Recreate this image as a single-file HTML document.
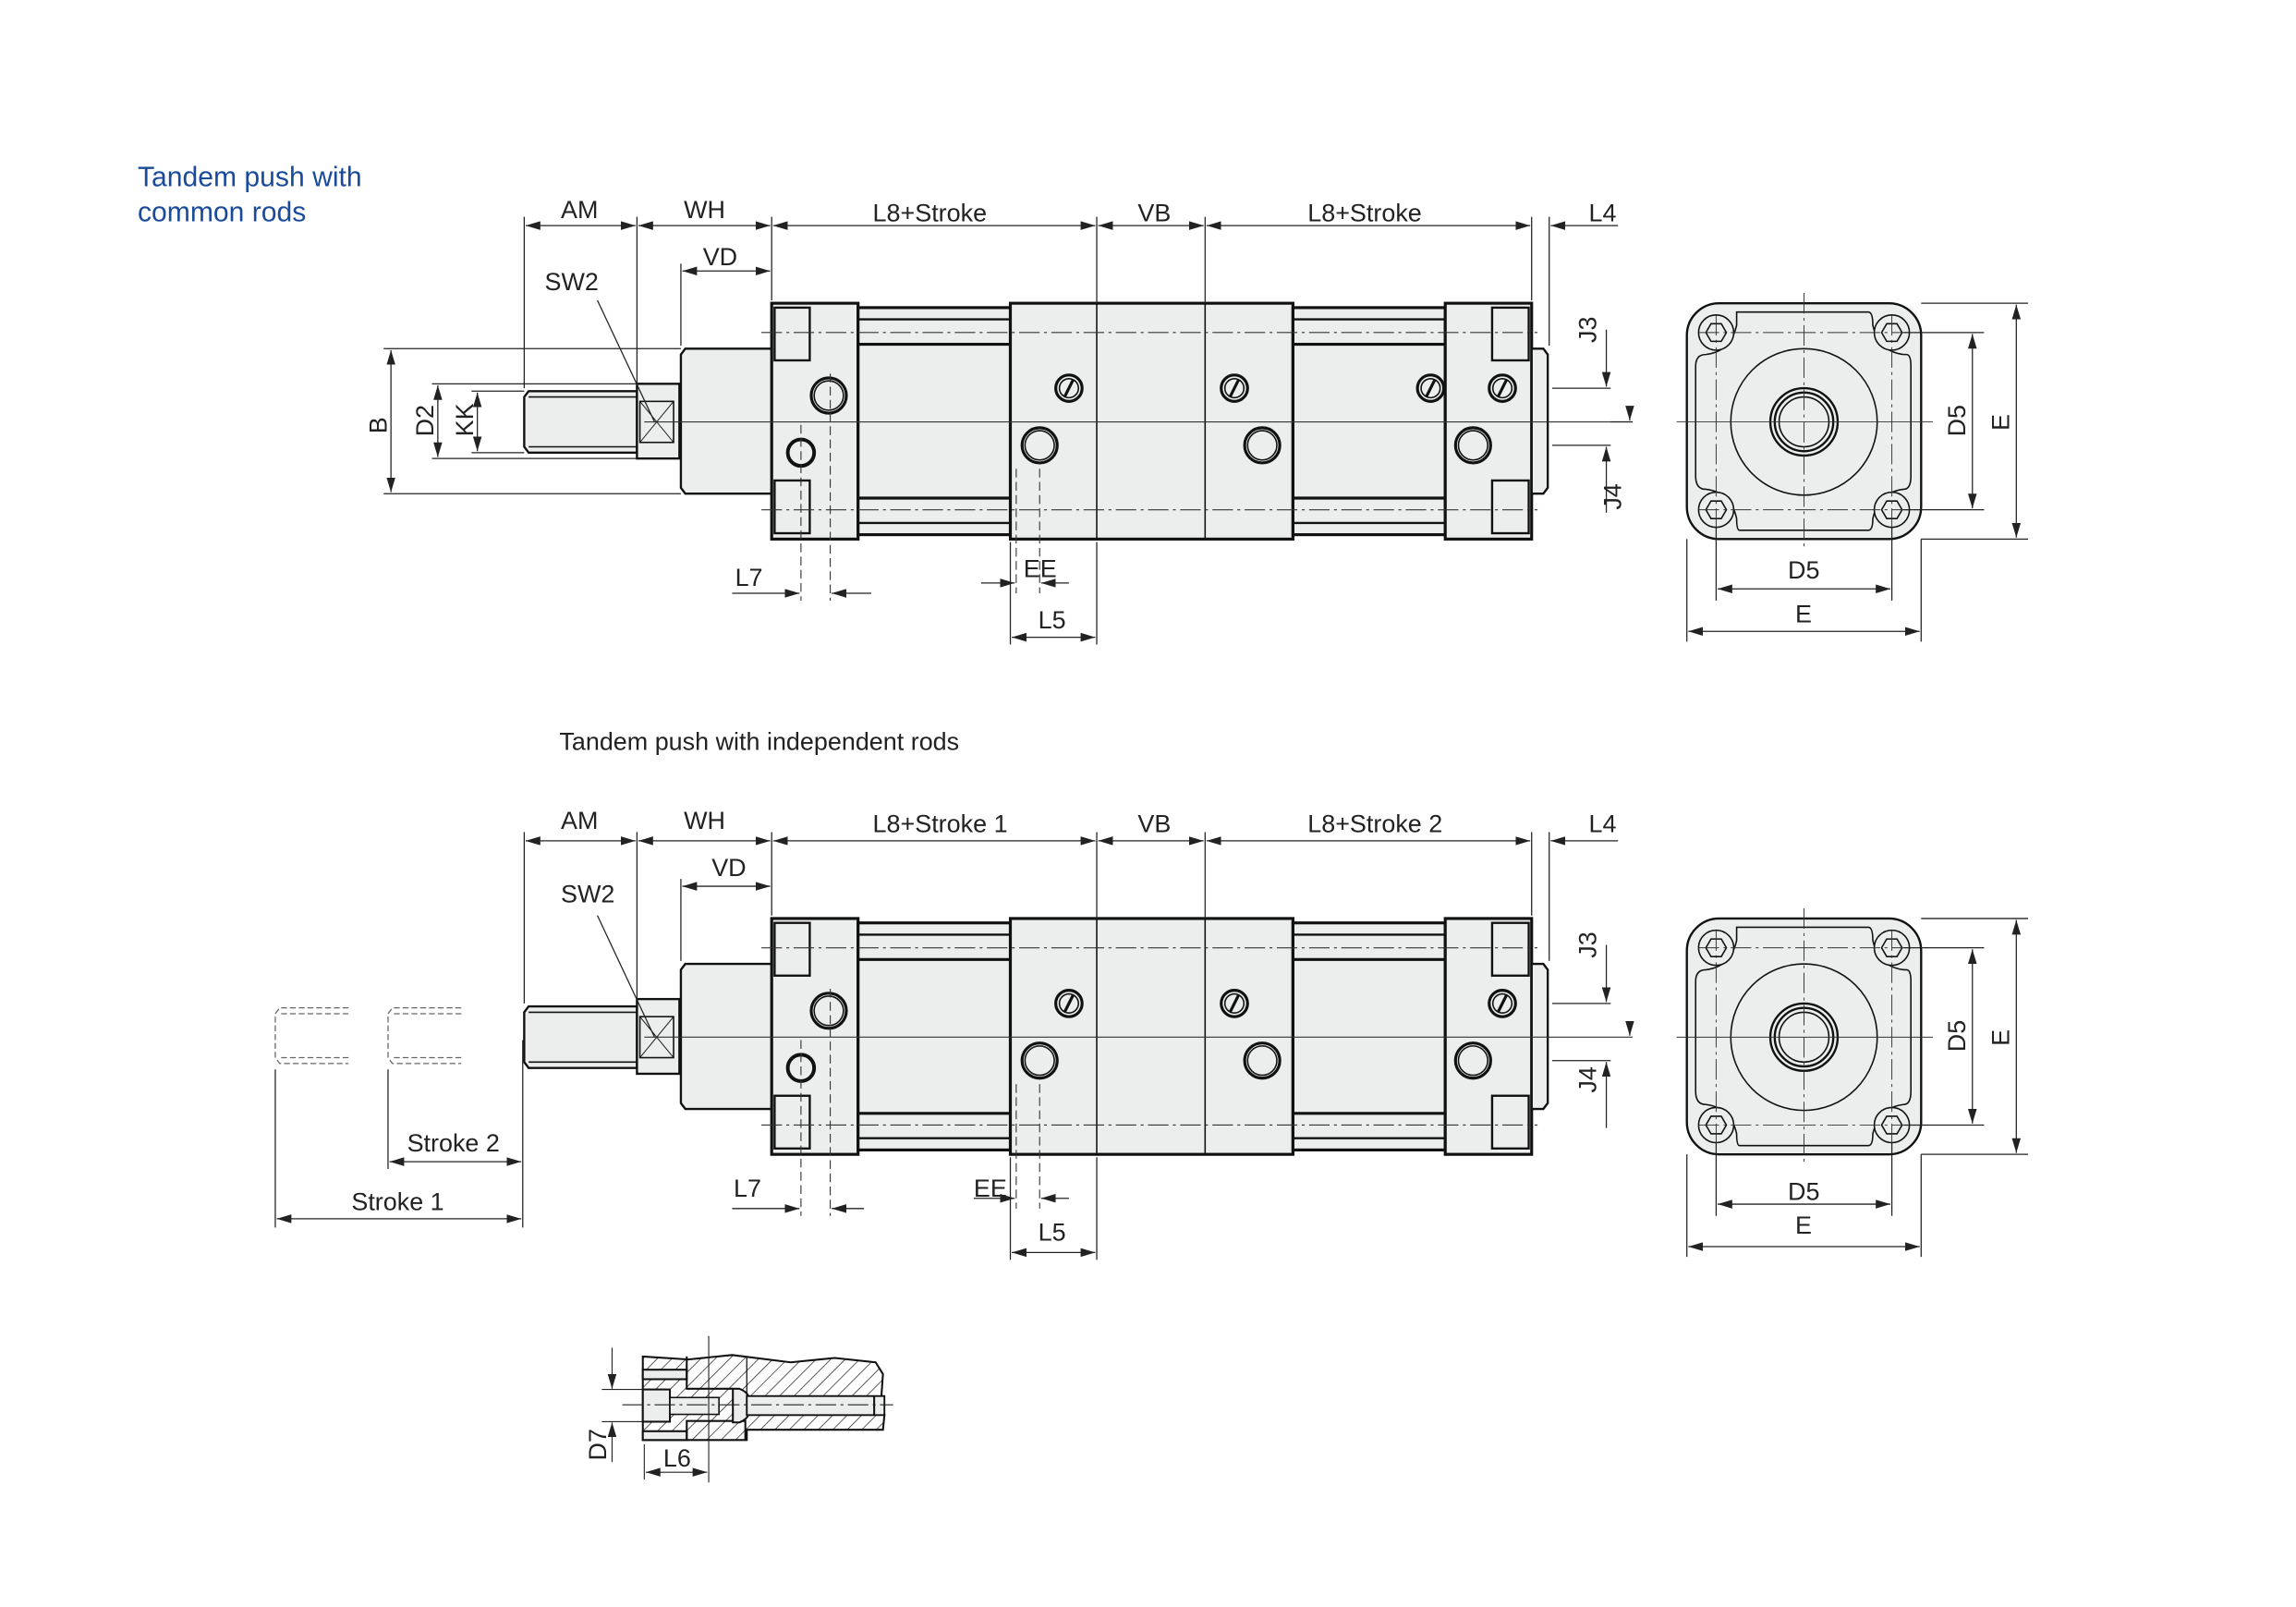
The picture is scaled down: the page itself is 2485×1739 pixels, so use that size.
<!DOCTYPE html>
<html><head><meta charset="utf-8"><style>
html,body{margin:0;padding:0;background:#fff}
svg{display:block}
text{font-family:"Liberation Sans",sans-serif;font-size:17px;fill:#222}
</style></head><body>
<svg width="2485" height="1739" viewBox="0 0 1568 1097" preserveAspectRatio="none" xmlns="http://www.w3.org/2000/svg">
<defs>
<marker id="a" viewBox="0 0 10 6" refX="10" refY="3" markerWidth="10" markerHeight="6" orient="auto-start-reverse" markerUnits="userSpaceOnUse"><path d="M0,0L10,3L0,6z" fill="#222"/></marker>
<pattern id="h" width="7" height="7" patternUnits="userSpaceOnUse" patternTransform="rotate(45)"><line x1="0" y1="0" x2="0" y2="7" stroke="#333" stroke-width="1"/></pattern>
<g id="slot"><circle r="9" fill="#eceeed" stroke="#111" stroke-width="2"/><circle r="6.5" fill="none" stroke="#111" stroke-width="1"/><line x1="-3" y1="6" x2="3" y2="-6" stroke="#111" stroke-width="2"/></g>
<g id="port"><circle r="12" fill="#eceeed" stroke="#111" stroke-width="2"/><circle r="10" fill="none" stroke="#111" stroke-width="1"/></g>
<g id="body" stroke="#111" fill="#eceeed">
 <path d="M361,267H435V309H361L358,305V271Z" stroke-width="1.5"/>
 <line x1="361" y1="271" x2="435" y2="271" stroke-width="1"/><line x1="361" y1="305" x2="435" y2="305" stroke-width="1"/>
 <rect x="435" y="262" width="29" height="51" stroke-width="1.5"/>
 <rect x="437" y="274" width="23" height="28" fill="none" stroke-width="1"/>
 <line x1="437" y1="274" x2="460" y2="302" stroke-width="0.6"/><line x1="460" y1="274" x2="437" y2="302" stroke-width="0.6"/>
 <path d="M468,238H527V337H468L465,333V242Z" stroke-width="1.5"/>
 <rect x="527" y="207" width="59" height="161" stroke-width="2"/>
 <rect x="529" y="210" width="24" height="36" stroke-width="1.5"/>
 <rect x="529" y="328" width="24" height="36" stroke-width="1.5"/>
 <rect x="586" y="210" width="104" height="155" stroke-width="2"/>
 <line x1="586" y1="218" x2="690" y2="218" stroke-width="1.5"/><line x1="586" y1="235" x2="690" y2="235" stroke-width="2"/>
 <line x1="586" y1="340" x2="690" y2="340" stroke-width="2"/><line x1="586" y1="357" x2="690" y2="357" stroke-width="1.5"/>
 <rect x="690" y="207" width="193" height="161" stroke-width="2"/>
 <line x1="749" y1="207" x2="749" y2="368" stroke-width="1"/><line x1="823" y1="207" x2="823" y2="368" stroke-width="1"/>
 <rect x="883" y="210" width="104" height="155" stroke-width="2"/>
 <line x1="883" y1="218" x2="987" y2="218" stroke-width="1.5"/><line x1="883" y1="235" x2="987" y2="235" stroke-width="2"/>
 <line x1="883" y1="340" x2="987" y2="340" stroke-width="2"/><line x1="883" y1="357" x2="987" y2="357" stroke-width="1.5"/>
 <rect x="987" y="207" width="59" height="161" stroke-width="2"/>
 <rect x="1019" y="210" width="25" height="36" stroke-width="1.5"/>
 <rect x="1019" y="328" width="25" height="36" stroke-width="1.5"/>
 <path d="M1046,238H1054L1057,242V333L1054,337H1046Z" stroke-width="1.5"/>
 <g stroke="#333" stroke-width="0.7" stroke-dasharray="14,3,2,3" fill="none">
  <line x1="520" y1="227" x2="1050" y2="227"/><line x1="520" y1="348" x2="1050" y2="348"/>
 </g>
 <line x1="440" y1="288" x2="1115" y2="288" stroke="#333" stroke-width="0.7"/>
 <use href="#port" x="566" y="270"/>
 <circle cx="547" cy="309" r="9" fill="#eceeed" stroke-width="2.5"/>
 <use href="#port" x="710" y="304"/><use href="#port" x="862" y="304"/><use href="#port" x="1006" y="304"/>
 <use href="#slot" x="730" y="265"/><use href="#slot" x="843" y="265"/><use href="#slot" x="1026" y="265"/>
 <g stroke="#333" stroke-width="0.7" stroke-dasharray="6,3" fill="none">
  <line x1="547" y1="290" x2="547" y2="410"/><line x1="567" y1="255" x2="567" y2="410"/>
  <line x1="694" y1="320" x2="694" y2="405"/><line x1="710" y1="320" x2="710" y2="405"/>
 </g>
</g>
<g id="end" stroke="#111" fill="#eceeed">
 <rect x="1152" y="207" width="160" height="161" rx="22" stroke-width="1.5"/>
 <path d="M1186,213H1276Q1279,213 1279,222Q1283,240 1300,242H1302Q1305,242 1305,250V325Q1305,334 1300,334Q1283,336 1279,354Q1279,362 1276,362H1188Q1186,362 1186,354Q1182,336 1165,334Q1158,334 1158,325V250Q1158,242 1165,242Q1182,240 1186,222Z" fill="none" stroke-width="1"/>
 <circle cx="1232" cy="288" r="50" stroke-width="1"/>
 <circle cx="1232" cy="288" r="23" fill="none" stroke-width="1.5"/>
 <circle cx="1232" cy="288" r="20" fill="none" stroke-width="1.5"/>
 <circle cx="1232" cy="288" r="17" fill="none" stroke-width="1"/>
 <g stroke-width="1">
  <circle cx="1172" cy="227" r="12"/><circle cx="1292" cy="227" r="12"/><circle cx="1172" cy="348" r="12"/><circle cx="1292" cy="348" r="12"/>
 </g>
 <g fill="none" stroke-width="1">
  <polygon points="1165,227 1168.5,221 1175.5,221 1179,227 1175.5,233 1168.5,233"/>
  <polygon points="1285,227 1288.5,221 1295.5,221 1299,227 1295.5,233 1288.5,233"/>
  <polygon points="1165,348 1168.5,342 1175.5,342 1179,348 1175.5,354 1168.5,354"/>
  <polygon points="1285,348 1288.5,342 1295.5,342 1299,348 1295.5,354 1288.5,354"/>
 </g>
 <g stroke="#333" stroke-width="0.6" fill="none">
  <line x1="1145" y1="288" x2="1320" y2="288"/>
  <line x1="1232" y1="200" x2="1232" y2="375" stroke-dasharray="14,3,2,3"/>
  <line x1="1172" y1="215" x2="1172" y2="360" stroke-dasharray="14,3,2,3"/><line x1="1292" y1="215" x2="1292" y2="360" stroke-dasharray="14,3,2,3"/>
  <line x1="1160" y1="227" x2="1304" y2="227" stroke-dasharray="14,3,2,3"/><line x1="1160" y1="348" x2="1304" y2="348" stroke-dasharray="14,3,2,3"/>
 </g>
 <g stroke="#222" stroke-width="0.8" fill="none">
  <line x1="1300" y1="227" x2="1355" y2="227"/><line x1="1300" y1="348" x2="1355" y2="348"/>
  <line x1="1312" y1="207" x2="1385" y2="207"/><line x1="1312" y1="368" x2="1385" y2="368"/>
  <line x1="1347" y1="228" x2="1347" y2="347" marker-start="url(#a)" marker-end="url(#a)"/>
  <line x1="1377" y1="208" x2="1377" y2="367" marker-start="url(#a)" marker-end="url(#a)"/>
  <line x1="1172" y1="360" x2="1172" y2="410"/><line x1="1292" y1="360" x2="1292" y2="410"/>
  <line x1="1152" y1="368" x2="1152" y2="438"/><line x1="1312" y1="368" x2="1312" y2="438"/>
  <line x1="1173" y1="402" x2="1291" y2="402" marker-start="url(#a)" marker-end="url(#a)"/>
  <line x1="1153" y1="431" x2="1311" y2="431" marker-start="url(#a)" marker-end="url(#a)"/>
 </g>
</g>
<g id="dims" stroke="#222" stroke-width="0.8" fill="none">
 <line x1="358" y1="148" x2="358" y2="265"/><line x1="435" y1="148" x2="435" y2="262"/><line x1="527" y1="148" x2="527" y2="205"/>
 <line x1="749" y1="148" x2="749" y2="207"/><line x1="823" y1="148" x2="823" y2="207"/><line x1="1046" y1="148" x2="1046" y2="205"/>
 <line x1="1058" y1="148" x2="1058" y2="236"/><line x1="465" y1="180" x2="465" y2="236"/>
 <line x1="359" y1="154" x2="434" y2="154" marker-start="url(#a)" marker-end="url(#a)"/>
 <line x1="436" y1="154" x2="526" y2="154" marker-start="url(#a)" marker-end="url(#a)"/>
 <line x1="528" y1="154" x2="748" y2="154" marker-start="url(#a)" marker-end="url(#a)"/>
 <line x1="750" y1="154" x2="822" y2="154" marker-start="url(#a)" marker-end="url(#a)"/>
 <line x1="824" y1="154" x2="1045" y2="154" marker-start="url(#a)" marker-end="url(#a)"/>
 <line x1="466" y1="185" x2="526" y2="185" marker-start="url(#a)" marker-end="url(#a)"/>
 <line x1="1100" y1="265" x2="1060" y2="265"/><line x1="1100" y1="304" x2="1060" y2="304"/>
 <line x1="690" y1="370" x2="690" y2="440"/><line x1="749" y1="370" x2="749" y2="440"/>
 <line x1="691" y1="435" x2="748" y2="435" marker-start="url(#a)" marker-end="url(#a)"/>
</g>
</defs>

<text x="94" y="127" style="font-size:19px;fill:#1a4b9b;font-weight:500">Tandem push with</text>
<text x="94" y="151" style="font-size:19px;fill:#1a4b9b;font-weight:500">common rods</text>

<use href="#body"/>
<use href="#slot" x="977" y="265"/>
<use href="#end"/>
<use href="#dims"/>
<g stroke="#222" stroke-width="0.8" fill="none">
 <line x1="1059" y1="154" x2="1105" y2="154" marker-start="url(#a)"/>
 <line x1="262" y1="238" x2="465" y2="238"/><line x1="262" y1="337" x2="465" y2="337"/>
 <line x1="267" y1="239" x2="267" y2="336" marker-start="url(#a)" marker-end="url(#a)"/>
 <line x1="295" y1="262" x2="435" y2="262"/><line x1="295" y1="313" x2="435" y2="313"/>
 <line x1="299" y1="263" x2="299" y2="312" marker-start="url(#a)" marker-end="url(#a)"/>
 <line x1="322" y1="267" x2="358" y2="267"/><line x1="322" y1="309" x2="358" y2="309"/>
 <line x1="326" y1="268" x2="326" y2="308" marker-start="url(#a)" marker-end="url(#a)"/>
 <line x1="408" y1="205" x2="447" y2="288"/>
 <line x1="1097" y1="225" x2="1097" y2="264" marker-end="url(#a)"/>
 <line x1="1097" y1="305" x2="1097" y2="350" marker-start="url(#a)"/>
 <line x1="1113" y1="280" x2="1113" y2="287" marker-end="url(#a)"/>
 <line x1="1100" y1="288" x2="1115" y2="288"/>
 <line x1="500" y1="405" x2="546" y2="405" marker-end="url(#a)"/>
 <line x1="595" y1="405" x2="568" y2="405" marker-end="url(#a)"/>
 <line x1="670" y1="398" x2="693" y2="398" marker-end="url(#a)"/>
 <line x1="730" y1="398" x2="711" y2="398" marker-end="url(#a)"/>
</g>
<text x="383" y="149">AM</text><text x="467" y="149">WH</text><text x="596" y="151">L8+Stroke</text>
<text x="777" y="151">VB</text><text x="893" y="151">L8+Stroke</text><text x="1085" y="151">L4</text>
<text x="480" y="181">VD</text><text x="372" y="198">SW2</text>
<text transform="translate(264,296) rotate(-90)">B</text>
<text transform="translate(296,298) rotate(-90)">D2</text>
<text transform="translate(323,298) rotate(-90)">KK</text>
<text transform="translate(1090,234) rotate(-90)">J3</text>
<text transform="translate(1107,348) rotate(-90)">J4</text>
<text transform="translate(1342,298) rotate(-90)">D5</text>
<text transform="translate(1372,294) rotate(-90)">E</text>
<text x="502" y="400">L7</text><text x="699" y="394">EE</text><text x="709" y="429">L5</text>
<text x="1221" y="395">D5</text><text x="1226" y="425">E</text>

<text x="382" y="512">Tandem push with independent rods</text>

<g transform="translate(0,420)">
 <use href="#body"/><use href="#end"/><use href="#dims"/>
 <g stroke="#222" stroke-width="0.8" fill="none">
  <line x1="1059" y1="154" x2="1105" y2="154" marker-start="url(#a)"/>
  <line x1="408" y1="205" x2="447" y2="288"/>
  <line x1="1097" y1="225" x2="1097" y2="264" marker-end="url(#a)"/>
  <line x1="1097" y1="305" x2="1097" y2="350" marker-start="url(#a)"/>
  <line x1="1113" y1="280" x2="1113" y2="287" marker-end="url(#a)"/>
  <line x1="500" y1="405" x2="546" y2="405" marker-end="url(#a)"/>
  <line x1="590" y1="405" x2="568" y2="405" marker-end="url(#a)"/>
  <line x1="665" y1="398" x2="693" y2="398" marker-end="url(#a)"/>
  <line x1="730" y1="398" x2="711" y2="398" marker-end="url(#a)"/>
  <line x1="357" y1="290" x2="357" y2="418"/>
  <line x1="265" y1="310" x2="265" y2="378"/><line x1="188" y1="310" x2="188" y2="418"/>
  <line x1="266" y1="373" x2="356" y2="373" marker-start="url(#a)" marker-end="url(#a)"/>
  <line x1="189" y1="412" x2="356" y2="412" marker-start="url(#a)" marker-end="url(#a)"/>
 </g>
 <g stroke="#666" stroke-width="0.8" stroke-dasharray="4,2" fill="none">
  <path d="M238,268H191L188,272V302L191,306H238"/><path d="M238,272H191M238,302H191"/>
  <path d="M315,268H268L265,272V302L268,306H315"/><path d="M315,272H268M315,302H268"/>
 </g>
</g>
<text x="383" y="566">AM</text><text x="467" y="566">WH</text><text x="596" y="568">L8+Stroke 1</text>
<text x="777" y="568">VB</text><text x="893" y="568">L8+Stroke 2</text><text x="1085" y="568">L4</text>
<text x="486" y="598">VD</text><text x="383" y="616">SW2</text>
<text transform="translate(1090,654) rotate(-90)">J3</text>
<text transform="translate(1090,746) rotate(-90)">J4</text>
<text transform="translate(1342,718) rotate(-90)">D5</text>
<text transform="translate(1372,714) rotate(-90)">E</text>
<text x="501" y="817">L7</text><text x="665" y="817">EE</text><text x="709" y="847">L5</text>
<text x="1221" y="819">D5</text><text x="1226" y="842">E</text>
<text x="278" y="786">Stroke 2</text><text x="240" y="826">Stroke 1</text>

<!-- DETAIL -->
<g stroke="#111" stroke-width="1.3">
 <path d="M439,926L470,928L500,925L540,930L570,927L598,930L603,938L602,952L604,966L603,976L510,976V983H439Z" fill="url(#h)"/>
 <rect x="439" y="935" width="30" height="6.5" fill="#eceeed"/>
 <rect x="439" y="977" width="30" height="6" fill="#eceeed"/>
 <path d="M469,926V948H500L510,953" fill="none"/>
 <path d="M469,983V970H509V983" fill="none"/>
 <rect x="439" y="948.5" width="18.5" height="22" fill="#eceeed"/>
 <rect x="457.5" y="954" width="33.5" height="11.5" fill="#eceeed" stroke-width="1"/>
 <path d="M500.5,948H505Q510,950 511,953V966Q510,969 505,971H500.5Z" fill="#eceeed"/>
 <rect x="510" y="953" width="94" height="13" fill="#eceeed" stroke-width="1.2"/>
 <line x1="597" y1="953" x2="597" y2="966"/>
 <line x1="510" y1="926" x2="510" y2="953" stroke-width="0.8"/>
</g>
<g stroke="#222" stroke-width="0.7" fill="none">
 <line x1="425" y1="959" x2="610" y2="959" stroke-dasharray="14,3,2,3"/>
 <line x1="484" y1="912" x2="484" y2="1012"/><line x1="440" y1="986" x2="440" y2="1010"/>
 <line x1="441" y1="1005" x2="483" y2="1005" marker-start="url(#a)" marker-end="url(#a)"/>
 <line x1="418" y1="920" x2="418" y2="948" marker-end="url(#a)"/>
 <line x1="418" y1="998" x2="418" y2="971" marker-end="url(#a)"/>
 <line x1="411" y1="948.5" x2="439" y2="948.5"/><line x1="411" y1="970.5" x2="439" y2="970.5"/>
</g>
<text x="453" y="1001">L6</text>
<text transform="translate(414,997) rotate(-90)">D7</text>
</svg>
</body></html>
